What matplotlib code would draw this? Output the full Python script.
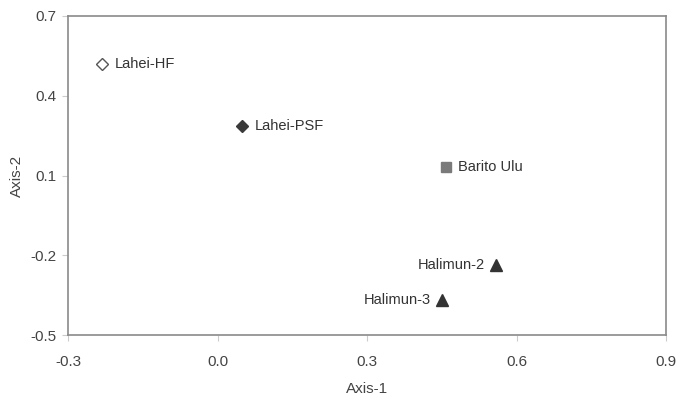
import matplotlib.pyplot as plt

plt.rcParams['font.family'] = ['Liberation Sans', 'DejaVu Sans']

# site scores on the two ordination axes
sites = ['Lahei-HF', 'Lahei-PSF', 'Barito Ulu', 'Halimun-2', 'Halimun-3']
axis1 = [-0.232, 0.049, 0.458, 0.559, 0.451]
axis2 = [0.519, 0.285, 0.131, -0.237, -0.369]

markers = ['D', 'D', 's', '^', '^']
faces = ['white', '#3a3a3a', '#7a7a7a', '#333333', '#333333']
edges = ['#555555', '#3a3a3a', '#7a7a7a', '#333333', '#333333']
sizes = [6, 6, 7, 8, 8]
label_side = ['right', 'right', 'right', 'left', 'left']

xticks = [-0.3, 0.0, 0.3, 0.6, 0.9]
yticks = [-0.5, -0.2, 0.1, 0.4, 0.7]

fig = plt.figure(figsize=(6.79, 3.98), dpi=100)
ax = fig.add_axes([0.1001, 0.158, 0.8809, 0.802])

for name, x, y, m, fc, ec, s, side in zip(sites, axis1, axis2, markers, faces,
                                          edges, sizes, label_side):
    ax.plot(x, y, marker=m, ms=s, mfc=fc, mec=ec, mew=1.0, ls='none')
    dx = 9 if side == 'right' else -8
    ha = 'left' if side == 'right' else 'right'
    ax.annotate(name, (x, y), xytext=(dx, 0), textcoords='offset points',
                ha=ha, va='center', fontsize=10.5, color='#333333')

ax.set_xlim(-0.3, 0.9)
ax.set_ylim(-0.5, 0.7)
ax.set_xticks(xticks)
ax.set_yticks(yticks)
ax.set_xticklabels([f'{t:.1f}' for t in xticks])
ax.set_yticklabels([f'{t:.1f}' for t in yticks])

for sp in ax.spines.values():
    sp.set_color('#8a8a8a')
    sp.set_linewidth(1.2)
ax.tick_params(colors='#cccccc', length=4, width=0.8, labelcolor='#444444',
               labelsize=11)
ax.tick_params(axis='x', pad=10)
ax.tick_params(axis='y', pad=4)

ax.set_xlabel('Axis-1', fontsize=11, color='#444444', labelpad=10)
ax.set_ylabel('Axis-2', fontsize=11, color='#444444', labelpad=5)

fig.savefig('out.png', dpi=100)
